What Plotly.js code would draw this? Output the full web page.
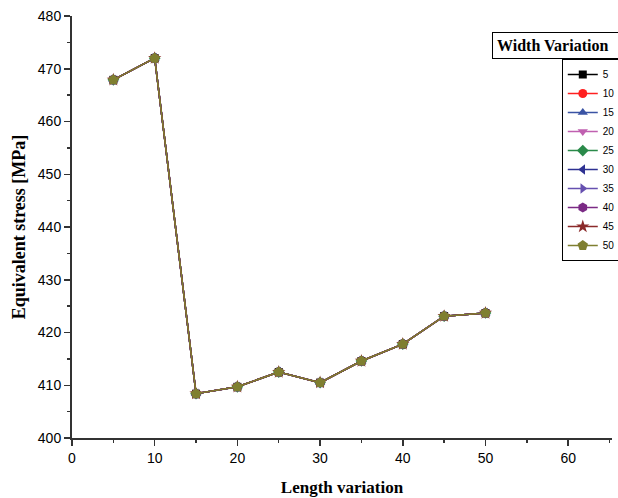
<!DOCTYPE html>
<html>
<head>
<meta charset="utf-8">
<script src="https://cdn.plot.ly/plotly-3.0.1.min.js"></script>
<style>html,body{margin:0;padding:0;background:#fff;}#chart{width:618px;height:498px;}</style>
</head>
<body>
<div id="chart"></div>
<script>
var lengthVariation = [5, 10, 15, 20, 25, 30, 35, 40, 45, 50];
var seriesNames = ['5', '10', '15', '20', '25', '30', '35', '40', '45', '50'];
// All width-variation series coincide in the reference
var stress5  = [467.9, 472.0, 408.4, 409.7, 412.5, 410.5, 414.6, 417.8, 423.1, 423.7];
var stress10 = [467.9, 472.0, 408.4, 409.7, 412.5, 410.5, 414.6, 417.8, 423.1, 423.7];
var stress15 = [467.9, 472.0, 408.4, 409.7, 412.5, 410.5, 414.6, 417.8, 423.1, 423.7];
var stress20 = [467.9, 472.0, 408.4, 409.7, 412.5, 410.5, 414.6, 417.8, 423.1, 423.7];
var stress25 = [467.9, 472.0, 408.4, 409.7, 412.5, 410.5, 414.6, 417.8, 423.1, 423.7];
var stress30 = [467.9, 472.0, 408.4, 409.7, 412.5, 410.5, 414.6, 417.8, 423.1, 423.7];
var stress35 = [467.9, 472.0, 408.4, 409.7, 412.5, 410.5, 414.6, 417.8, 423.1, 423.7];
var stress40 = [467.9, 472.0, 408.4, 409.7, 412.5, 410.5, 414.6, 417.8, 423.1, 423.7];
var stress45 = [467.9, 472.0, 408.4, 409.7, 412.5, 410.5, 414.6, 417.8, 423.1, 423.7];
var stress50 = [467.9, 472.0, 408.4, 409.7, 412.5, 410.5, 414.6, 417.8, 423.1, 423.7];
var allSeries = [stress5, stress10, stress15, stress20, stress25, stress30, stress35, stress40, stress45, stress50];

var colors = ['#000000', '#ff2020', '#3a53a4', '#c060b0', '#2a8a4a', '#2e3192', '#6650b0', '#7b2a85', '#8b2a2a', '#7f7f30'];
var symbols = ['square', 'circle', 'triangle-up', 'triangle-down', 'diamond', 'triangle-left', 'triangle-right', 'hexagon', 'star', 'pentagon'];
var sizes = [8, 9, 9, 9, 9, 9, 9, 10, 10, 11];

var traces = allSeries.map(function (ys, i) {
  return {
    x: lengthVariation, y: ys, name: seriesNames[i],
    type: 'scatter', mode: 'lines+markers',
    line: {color: colors[i], width: 1.5},
    marker: {symbol: symbols[i], size: sizes[i], color: colors[i]}
  };
});

var layout = {
  width: 618, height: 498,
  margin: {l: 72, r: 6, t: 16, b: 60, autoexpand: false},
  paper_bgcolor: '#ffffff', plot_bgcolor: '#ffffff',
  showlegend: true,
  legend: {
    x: 0.907, xref: 'paper', xanchor: 'left', y: 0.898, yanchor: 'top',
    bordercolor: '#000000', borderwidth: 1, bgcolor: '#ffffff',
    font: {family: 'Liberation Sans, Arial', size: 10, color: '#000000'},
    itemwidth: 30, tracegroupgap: 0
  },
  xaxis: {
    range: [0, 65.3], tickvals: [0, 10, 20, 30, 40, 50, 60],
    showgrid: false, zeroline: false, showline: true, linecolor: '#333333', linewidth: 2,
    ticks: 'outside', ticklen: 6, tickwidth: 1.5, tickcolor: '#333333',
    minor: {dtick: 5, ticks: 'outside', ticklen: 3, tickwidth: 1.5, tickcolor: '#333333'},
    tickfont: {family: 'Liberation Sans, Arial', size: 14, color: '#000'},
    title: {text: '<b>Length variation</b>', font: {family: 'Liberation Serif, Times New Roman', size: 17, color: '#000'}, standoff: 16}
  },
  yaxis: {
    range: [400, 480], tickvals: [400, 410, 420, 430, 440, 450, 460, 470, 480],
    showgrid: false, zeroline: false, showline: true, linecolor: '#333333', linewidth: 2,
    ticks: 'outside', ticklen: 6, tickwidth: 1.5, tickcolor: '#333333',
    minor: {dtick: 5, ticks: 'outside', ticklen: 3, tickwidth: 1.5, tickcolor: '#333333'},
    tickfont: {family: 'Liberation Sans, Arial', size: 14, color: '#000'},
    title: {text: '<b>Equivalent stress [MPa]</b>', font: {family: 'Liberation Serif, Times New Roman', size: 18, color: '#000'}, standoff: 8}
  },
  annotations: [{
    text: '<b>Width Variation</b>&nbsp;&nbsp;&nbsp;&nbsp;', xref: 'paper', yref: 'paper',
    x: 0.778, xanchor: 'left', y: 0.962, yanchor: 'top', showarrow: false,
    font: {family: 'Liberation Serif, Times New Roman', size: 16, color: '#000'},
    bordercolor: '#000000', borderwidth: 1, borderpad: 4, bgcolor: '#ffffff'
  }]
};

Plotly.newPlot('chart', traces, layout, {displayModeBar: false, staticPlot: true});
</script>
</body>
</html>
